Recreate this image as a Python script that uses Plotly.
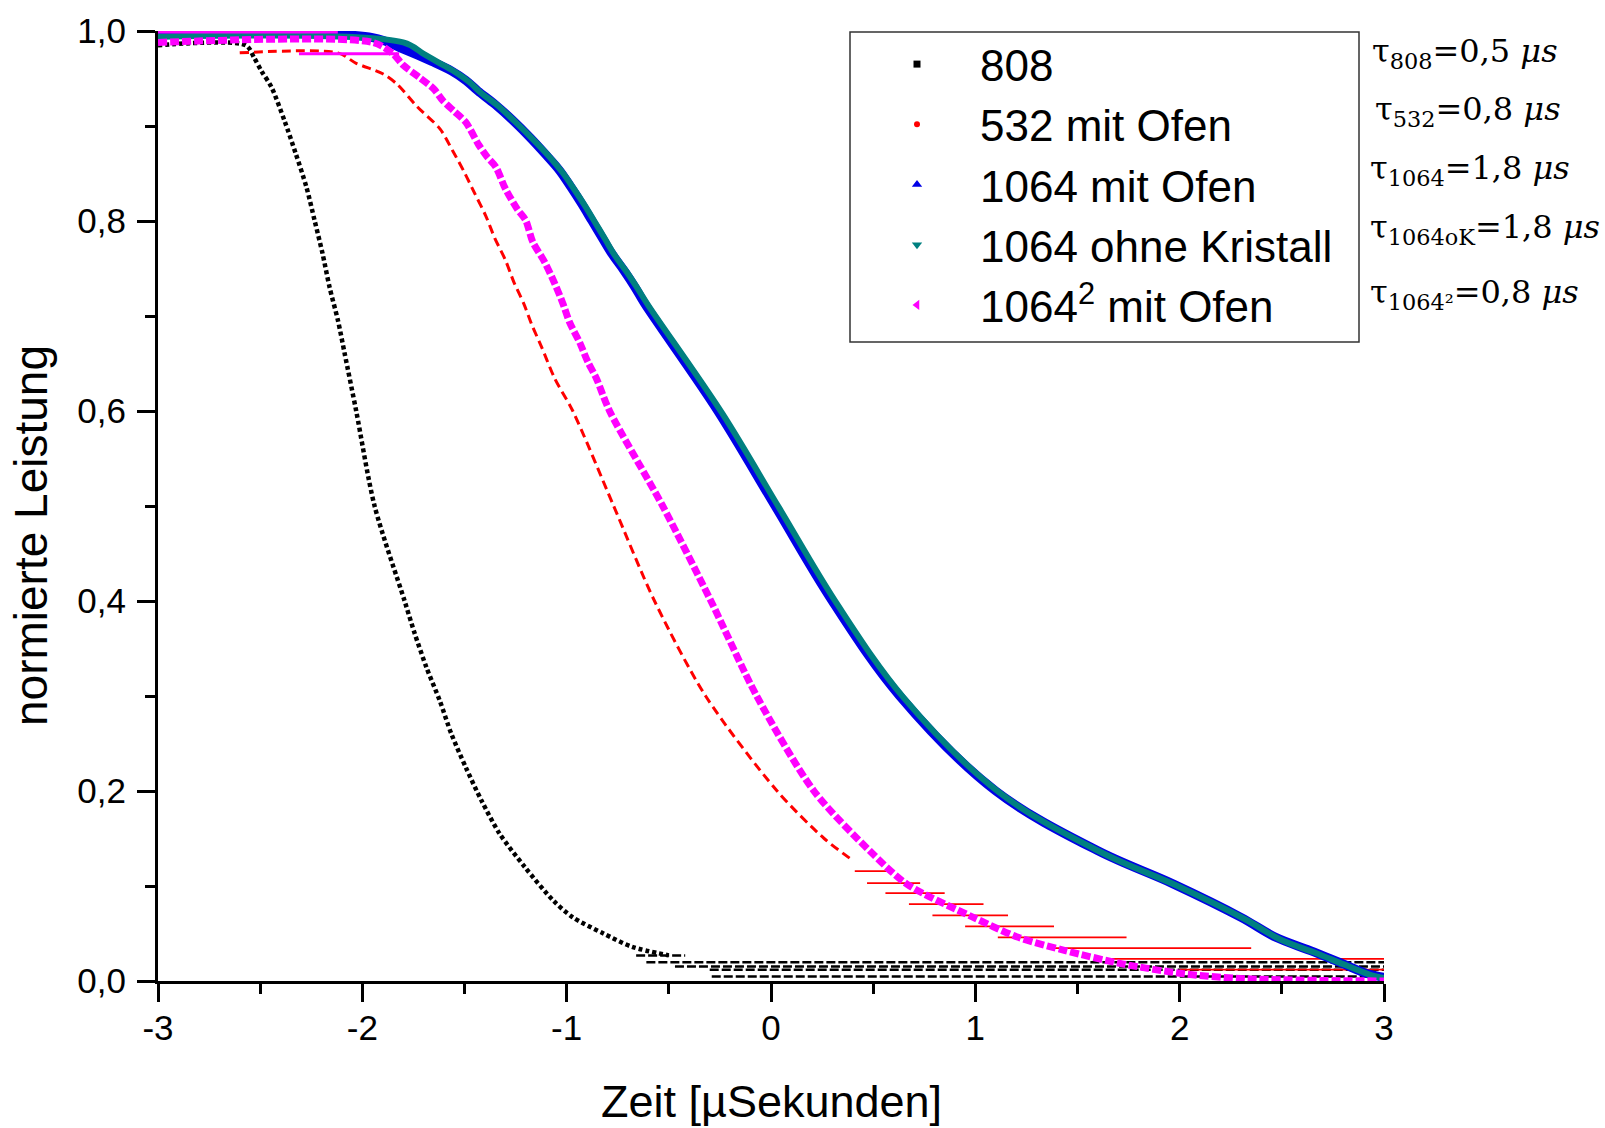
import plotly.graph_objects as go

# ---- measured decay curves: time [µs] vs. normalised power ----
t_808 = [-3.0, -2.57, -2.53, -2.494, -2.445, -2.38, -2.326, -2.274, -2.233, -2.195, -2.16,
         -2.119, -2.086, -2.03, -1.94, -1.793, -1.744, -1.686, -1.621, -1.564, -1.494,
         -1.417, -1.328, -1.205, -1.067, -0.97, -0.82, -0.68, -0.5]
p_808 = [0.985, 0.985, 0.972, 0.958, 0.941, 0.905, 0.871, 0.836, 0.800, 0.766, 0.730,
         0.695, 0.660, 0.600, 0.500, 0.400, 0.366, 0.330, 0.295, 0.260, 0.225,
         0.190, 0.155, 0.120, 0.085, 0.067, 0.050, 0.036, 0.027]

t_532 = [-2.60, -2.12, -2.03, -1.90, -1.83, -1.73, -1.62, -1.558, -1.50, -1.45, -1.396,
         -1.352, -1.30, -1.259, -1.21, -1.169, -1.122, -1.058, -0.97, -0.77, -0.57,
         -0.32, 0.03, 0.26, 0.40]
p_532 = [0.977, 0.977, 0.966, 0.955, 0.944, 0.920, 0.897, 0.874, 0.851, 0.829, 0.8055,
         0.782, 0.759, 0.736, 0.713, 0.690, 0.667, 0.634, 0.600, 0.500, 0.400,
         0.300, 0.200, 0.150, 0.127]

t_1064 = [-3.0, -1.95, -1.80, -1.66, -1.564, -1.494, -1.435, -1.352, -1.264, -1.18, -1.107,
          -1.034, -0.98, -0.926, -0.877, -0.828, -0.78, -0.72, -0.665, -0.618, -0.26,
          0.02, 0.30, 0.63, 1.10, 1.60, 1.97, 2.30, 2.47, 2.64, 2.80, 2.92, 3.0]
p_1064 = [0.996, 0.993, 0.981, 0.968, 0.958, 0.948, 0.937, 0.923, 0.906, 0.888, 0.871,
          0.853, 0.836, 0.818, 0.8005, 0.783, 0.766, 0.748, 0.730, 0.713, 0.600,
          0.500, 0.400, 0.300, 0.200, 0.137, 0.102, 0.067, 0.046, 0.032, 0.018, 0.0076, 0.004]

t_1064ok = [-3.0, -1.80, -1.70, -1.62, -1.54, -1.475, -1.42, -1.335, -1.25, -1.165, -1.09,
            -1.02, -0.965, -0.91, -0.862, -0.812, -0.765, -0.705, -0.65, -0.60, -0.24,
            0.04, 0.32, 0.65, 1.12, 1.62, 1.99, 2.32, 2.49, 2.66, 2.82, 2.94, 3.0]
p_1064ok = [0.994, 0.988, 0.976, 0.966, 0.956, 0.946, 0.935, 0.921, 0.904, 0.886, 0.869,
            0.851, 0.834, 0.816, 0.799, 0.781, 0.764, 0.746, 0.728, 0.711, 0.598,
            0.498, 0.398, 0.298, 0.198, 0.135, 0.100, 0.065, 0.044, 0.030, 0.016, 0.006, 0.003]

t_1064sq = [-3.0, -1.95, -1.85, -1.80, -1.72, -1.65, -1.607, -1.548, -1.494, -1.43, -1.391,
            -1.347, -1.30, -1.24, -1.20, -1.166, -1.107, -1.058, -1.019, -0.985, -0.936,
            -0.897, -0.854, -0.79, -0.53, -0.294, -0.07, 0.21, 0.483, 0.665, 0.99, 1.21,
            1.44, 1.72, 2.02, 2.33, 3.0]
p_1064sq = [0.988, 0.988, 0.976, 0.964, 0.951, 0.939, 0.927, 0.915, 0.904, 0.880, 0.868,
            0.857, 0.834, 0.812, 0.8005, 0.778, 0.7565, 0.734, 0.7135, 0.693, 0.672,
            0.652, 0.634, 0.600, 0.500, 0.400, 0.300, 0.200, 0.137, 0.102, 0.067, 0.046,
            0.032, 0.018, 0.0076, 0.0023, 0.0]

# quantised plateaus (level, start, end) where the signal sits on one ADC step
rows_808_level = [0.0268, 0.0198, 0.0153, 0.0118, 0.0047]
rows_808_start = [-0.66, -0.61, -0.47, -0.30, -0.29]
rows_808_end = [-0.42, 3.0, 3.0, 3.0, 3.0]

rows_532_level = [0.1156, 0.103, 0.0925, 0.081, 0.069, 0.0574, 0.046, 0.0346, 0.0233, 0.012]
rows_532_start = [0.41, 0.47, 0.56, 0.675, 0.79, 0.95, 1.11, 1.375, 1.64, 2.0]
rows_532_end = [0.57, 0.73, 0.85, 1.04, 1.16, 1.385, 1.74, 2.35, 3.0, 3.0]

rows_1064sq_level = [0.999, 0.976]
rows_1064sq_start = [-3.0, -2.31]
rows_1064sq_end = [-2.12, -1.82]

tau_labels = [
    "τ<sub>808</sub>=0,5 <i>μs</i>",
    "τ<sub>532</sub>=0,8 <i>μs</i>",
    "τ<sub>1064</sub>=1,8 <i>μs</i>",
    "τ<sub>1064oK</sub>=1,8 <i>μs</i>",
    "τ<sub>1064²</sub>=0,8 <i>μs</i>",
]

x_ticks = [-3, -2, -1, 0, 1, 2, 3]
x_ticktext = ["-3", "-2", "-1", "0", "1", "2", "3"]
y_ticks = [0.0, 0.2, 0.4, 0.6, 0.8, 1.0]
y_ticktext = ["0,0", "0,2", "0,4", "0,6", "0,8", "1,0"]

BLACK, RED, BLUE, TEAL, MAGENTA = "#000000", "#ff0000", "#0000e6", "#008080", "#ff00ff"
SANS = "Liberation Sans, Arial, sans-serif"
SERIF = "DejaVu Serif, serif"


def plateau_xy(level, start, end):
    xs, ys = [], []
    for lv, a, b in zip(level, start, end):
        xs += [a, b, None]
        ys += [lv, lv, None]
    return xs, ys


fig = go.Figure()


def curve(t, p, color, width, dash="solid", smoothing=0.8):
    fig.add_trace(go.Scatter(x=t, y=p, mode="lines", showlegend=False, hoverinfo="skip",
                             line=dict(color=color, width=width, dash=dash,
                                       shape="spline", smoothing=smoothing)))


def plateaus(level, start, end, color, width, dash="solid"):
    xs, ys = plateau_xy(level, start, end)
    fig.add_trace(go.Scatter(x=xs, y=ys, mode="lines", showlegend=False, hoverinfo="skip",
                             line=dict(color=color, width=width, dash=dash)))


curve(t_808, p_808, BLACK, 4.5, "4px,3px")
plateaus(rows_808_level, rows_808_start, rows_808_end, BLACK, 2.5, "9px,3px")
curve(t_532, p_532, RED, 3, "9px,5px")
plateaus(rows_532_level, rows_532_start, rows_532_end, RED, 1.8)
curve(t_1064, p_1064, BLUE, 9, smoothing=1.0)
curve(t_1064ok, p_1064ok, TEAL, 6, smoothing=1.0)
plateaus(rows_1064sq_level, rows_1064sq_start, rows_1064sq_end, MAGENTA, 3)
curve(t_1064sq, p_1064sq, MAGENTA, 7, "9px,3px")

# legend entries with the plotting symbols of each series
legend_items = [
    ("808", BLACK, "square", 7),
    ("532 mit Ofen", RED, "circle", 6),
    ("1064 mit Ofen", BLUE, "triangle-up", 9),
    ("1064 ohne Kristall", TEAL, "triangle-down", 9),
    ("1064<sup>2</sup> mit Ofen", MAGENTA, "triangle-left", 9),
]
for name, color, symbol, size in legend_items:
    fig.add_trace(go.Scatter(x=[None], y=[None], mode="markers", name=name,
                             marker=dict(color=color, symbol=symbol, size=size)))

# plot area in pixels: x 158..1384, y 31..981
def px_x(X):
    return (X - 158) / 1226


def px_y(Y):
    return (981 - Y) / 950


annotations = []
tau_x = [1370, 1373, 1368, 1368, 1368]
tau_y = [53, 111, 170, 229, 294]
for txt, X, Y in zip(tau_labels, tau_x, tau_y):
    annotations.append(dict(text=txt, xref="paper", yref="paper", x=px_x(X), y=px_y(Y),
                            xanchor="left", yanchor="middle", showarrow=False,
                            font=dict(family=SERIF, size=32, color="black")))
annotations.append(dict(text="normierte Leistung", xref="paper", yref="paper",
                        x=px_x(31), y=px_y(536), textangle=-90, xanchor="center",
                        yanchor="middle", showarrow=False,
                        font=dict(family=SANS, size=46, color="black")))
annotations.append(dict(text="Zeit [µSekunden]", xref="paper", yref="paper",
                        x=px_x(771), y=px_y(1101), xanchor="center", yanchor="middle",
                        showarrow=False, font=dict(family=SANS, size=45, color="black")))

# legend frame
shapes = [dict(type="rect", xref="paper", yref="paper",
               x0=px_x(850), x1=px_x(1359), y0=px_y(342), y1=px_y(32),
               line=dict(color="#333333", width=1.5), fillcolor="rgba(0,0,0,0)")]

fig.update_layout(
    width=1605, height=1128,
    margin=dict(l=158, r=221, t=31, b=147),
    paper_bgcolor="white", plot_bgcolor="white",
    font=dict(family=SANS, color="black"),
    annotations=annotations,
    shapes=shapes,
    legend=dict(x=px_x(854), y=px_y(29), xanchor="left", yanchor="top",
                borderwidth=0, bgcolor="rgba(255,255,255,0)",
                font=dict(family=SANS, size=44, color="black"),
                itemwidth=116, tracegroupgap=0),
    xaxis=dict(range=[-3, 3], tickmode="array", tickvals=x_ticks, ticktext=x_ticktext,
               showgrid=False, zeroline=False, showline=True, linecolor="black", linewidth=3,
               ticks="outside", ticklen=18, tickwidth=3, tickcolor="black",
               tickfont=dict(family=SANS, size=35, color="black"), ticklabelstandoff=-4,
               minor=dict(ticks="outside", ticklen=10, tickwidth=3, tickcolor="black",
                          tickmode="linear", tick0=-3, dtick=0.5)),
    yaxis=dict(range=[0, 1.0], tickmode="array", tickvals=y_ticks, ticktext=y_ticktext,
               showgrid=False, zeroline=False, showline=True, linecolor="black", linewidth=3,
               ticks="outside", ticklen=18, tickwidth=3, tickcolor="black",
               tickfont=dict(family=SANS, size=35, color="black"), ticklabelstandoff=4,
               minor=dict(ticks="outside", ticklen=10, tickwidth=3, tickcolor="black",
                          tickmode="linear", tick0=0, dtick=0.1)),
)

fig.write_html("out.html")
